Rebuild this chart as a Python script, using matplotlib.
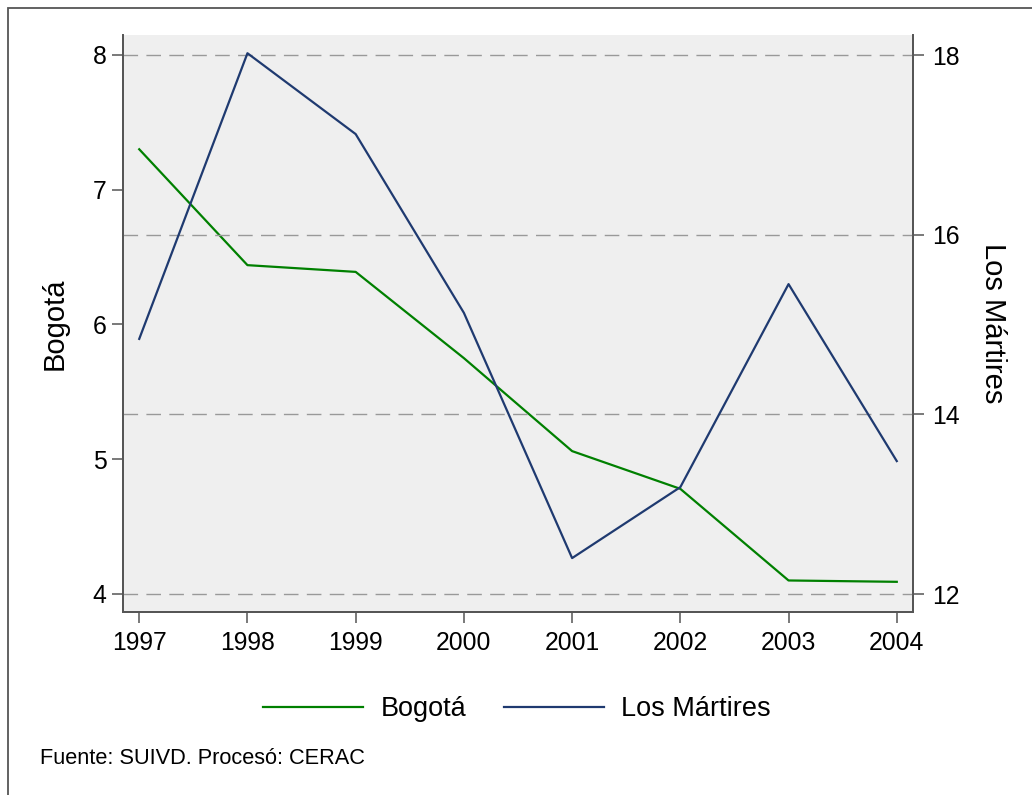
import matplotlib
matplotlib.use("Agg")
import matplotlib.pyplot as plt
from matplotlib.patches import Rectangle
from matplotlib.lines import Line2D

plt.rcParams['font.family'] = ['Liberation Sans', 'DejaVu Sans']

years = [1997, 1998, 1999, 2000, 2001, 2002, 2003, 2004]
bogota = [7.30, 6.44, 6.39, 5.75, 5.06, 4.78, 4.10, 4.09]
martires = [14.84, 18.02, 17.12, 15.13, 12.40, 13.19, 15.45, 13.48]
left_ticks = [4, 5, 6, 7, 8]
right_ticks = [12, 14, 16, 18]

W, H = 1032, 795
fig = plt.figure(figsize=(W / 100, H / 100), dpi=100)
fig.patch.set_facecolor('white')

# outer border (cropped on right/bottom)
fig.patches.append(Rectangle((8 / W, -0.05), 1.1, 1 - 8 / H + 0.05, transform=fig.transFigure,
                             fill=False, edgecolor='#555555', linewidth=1.3))

ax_l, ax_r, ax_t, ax_b = 123, 913, 35, 612
ax = fig.add_axes([ax_l / W, 1 - ax_b / H, (ax_r - ax_l) / W, (ax_b - ax_t) / H])
ax.set_facecolor('#efefef')
ax2 = ax.twinx()

green = '#008000'
navy = '#1f3a70'

ax.plot(years, bogota, color=green, linewidth=1.6, zorder=3)
ax2.plot(years, martires, color=navy, linewidth=1.6, zorder=3)

ax.set_xlim(1996.85, 2004.15)
ax.set_ylim(3.866, 8.148)
ax2.set_ylim(11.80, 18.223)

# grid at right axis ticks
for v in right_ticks:
    ax2.axhline(v, color='#999999', linewidth=1.0, dashes=(10.5, 6), zorder=1)

ax.set_xticks(years)
ax.set_xticklabels([str(y) for y in years])
ax.set_yticks(left_ticks)
ax2.set_yticks(right_ticks)

for a in (ax, ax2):
    for s in a.spines.values():
        s.set_color('#555555')
        s.set_linewidth(1.3)
    a.tick_params(axis='both', labelsize=17.8, length=8, width=1.1, color='#555555', pad=4)
ax.tick_params(axis='x', pad=6)
ax2.tick_params(axis='y', pad=6)
ax.spines['top'].set_visible(False)
ax2.spines['top'].set_visible(False)

ax.set_ylabel('Bogotá', fontsize=21, va='center')
ax.yaxis.set_label_coords(-0.086, 0.5)
ax2.set_ylabel('Los Mártires', fontsize=21, rotation=-90, va='center')
ax2.yaxis.set_label_coords(1.101, 0.5)

# legend
handles = [Line2D([], [], color=green, linewidth=1.6), Line2D([], [], color=navy, linewidth=1.6)]
fig.legend(handles, ['Bogotá', 'Los Mártires'], loc='center', bbox_to_anchor=(517 / W, 1 - 709 / H),
           ncol=2, frameon=False, fontsize=19.5, handlelength=3.7, columnspacing=1.4, handletextpad=0.63)

fig.text(40 / W, 1 - 758 / H, 'Fuente: SUIVD. Procesó: CERAC', fontsize=15.7, va='center', ha='left')

fig.savefig('out.png', dpi=100)
